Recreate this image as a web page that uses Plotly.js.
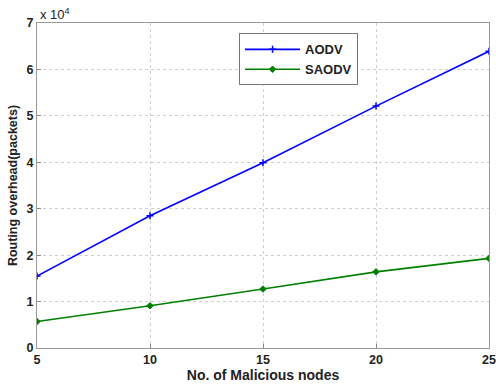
<!DOCTYPE html>
<html><head><meta charset="utf-8">
<script src="https://cdn.plot.ly/plotly-3.0.1.min.js"></script>
<style>html,body{margin:0;padding:0;background:#fff}#c{width:496px;height:385px}</style>
</head><body><div id="c"></div>
<script>
const nodes = [5, 10, 15, 20, 25];
const aodv = [15500, 28500, 39900, 52100, 63900];
const saodv = [5700, 9100, 12700, 16400, 19300];
const yTickVals = [0, 10000, 20000, 30000, 40000, 50000, 60000, 70000];
const yTickText = ['0', '1', '2', '3', '4', '5', '6', '7'];
const xTickVals = [5, 10, 15, 20, 25];

const fontFam = 'Liberation Sans, Arial, sans-serif';
const traces = [
  {x: nodes, y: aodv, name: 'AODV', mode: 'lines+markers', type: 'scatter',
   line: {color: '#0000ff', width: 1.6},
   marker: {symbol: 'cross-thin', size: 5, color: '#0000ff', line: {color: '#0000ff', width: 1.5}}},
  {x: nodes, y: saodv, name: 'SAODV', mode: 'lines+markers', type: 'scatter',
   line: {color: '#008000', width: 1.6},
   marker: {symbol: 'diamond', size: 5, color: '#008000', line: {color: '#008000', width: 1}}}
];
const layout = {
  width: 496, height: 385,
  margin: {l: 37, r: 7, t: 23, b: 37},
  paper_bgcolor: '#fff', plot_bgcolor: '#fff',
  font: {family: fontFam, size: 12, color: '#222'},
  showlegend: true,
  legend: {x: 0.447, y: 0.968, xanchor: 'left', yanchor: 'top',
    bgcolor: '#fff', bordercolor: '#777', borderwidth: 1,
    itemwidth: 55,
    font: {family: fontFam, size: 13, color: '#222', weight: 'bold'},
    tracegroupgap: 7},
  xaxis: {range: [5, 25], tickvals: xTickVals, ticks: 'inside', ticklen: 4,
    tickcolor: '#888', showline: true, linecolor: '#999', linewidth: 1, mirror: true,
    showgrid: true, gridcolor: '#cfcfcf', griddash: 'dot', zeroline: false,
    tickfont: {family: fontFam, size: 12.5, color: '#222', weight: 'bold'},
    title: {text: 'No. of Malicious nodes', standoff: 2,
      font: {family: fontFam, size: 14, color: '#222', weight: 'bold'}}},
  yaxis: {range: [0, 70000], tickvals: yTickVals, ticktext: yTickText, ticks: 'inside', ticklen: 4,
    tickcolor: '#888', showline: true, linecolor: '#999', linewidth: 1, mirror: true,
    showgrid: true, gridcolor: '#cfcfcf', griddash: 'dot', zeroline: false,
    tickfont: {family: fontFam, size: 12.5, color: '#222', weight: 'bold'},
    title: {text: 'Routing overhead(packets)', standoff: 6,
      font: {family: fontFam, size: 12.5, color: '#222', weight: 'bold'}}},
  annotations: [{xref: 'paper', yref: 'paper', x: 0, y: 1, xanchor: 'left', yanchor: 'bottom',
    text: 'x 10<sup>4</sup>', showarrow: false, xshift: 1, yshift: -1,
    font: {family: fontFam, size: 13, color: '#222'}}]
};
Plotly.newPlot('c', traces, layout, {displayModeBar: false, staticPlot: true});
</script></body></html>
